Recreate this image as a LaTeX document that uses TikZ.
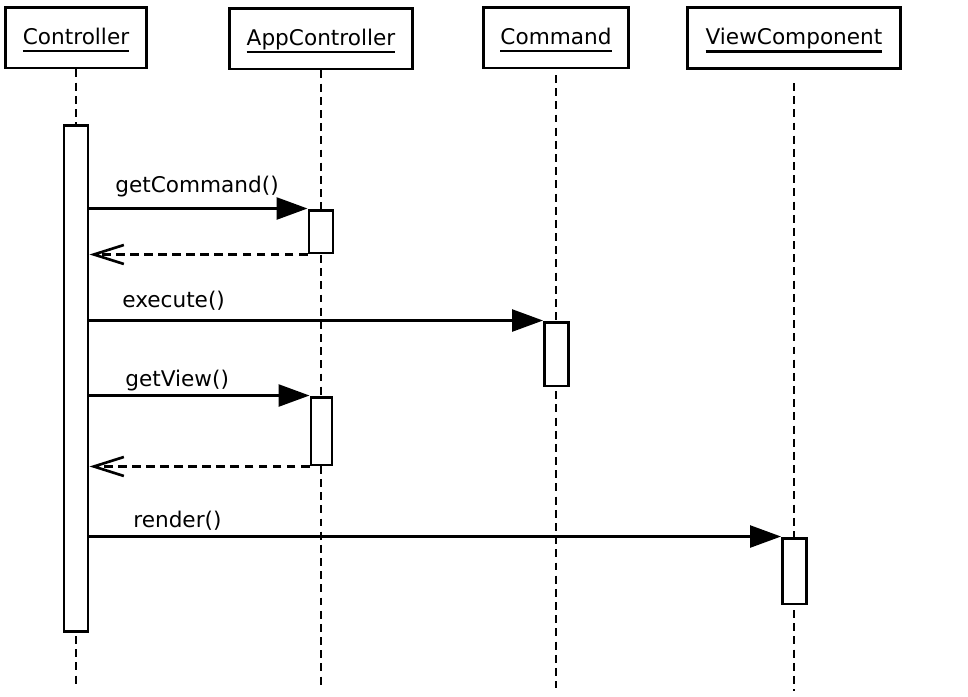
\documentclass[tikz,border=0pt]{standalone}
\usepackage{fontspec}
\setmainfont{DejaVu Sans}
\usetikzlibrary{arrows.meta}
\newcommand\objlabel[1]{\vtop{\hbox{#1\vphantom{p}}\kern0.6pt\hrule height 1.4pt}}
\tikzset{
  obj/.style={draw,line width=1.7pt,minimum height=1.22cm,inner sep=0pt,text height=12.3pt,font=\fontsize{12.3}{14}\selectfont},
  act/.style={draw,line width=1.7pt,fill=white,inner sep=0pt,minimum width=0.48cm},
  life/.style={line width=1.6pt,dash pattern=on 4.5pt off 3pt},
  call/.style={line width=1.5pt,-{Triangle[length=0.62cm,width=0.44cm]}},
  ret/.style={line width=1.5pt,dash pattern=on 5pt off 3pt,-{Straight Barb[length=0.6cm,width=0.38cm,line width=1.5pt]}},
  msg/.style={anchor=base west,inner sep=0pt,font=\fontsize{12.3}{14}\selectfont}
}
\begin{document}
\begin{tikzpicture}[x=0.02cm,y=-0.02cm]
        \useasboundingbox (0,0) rectangle (968,697);
        % objects
        \node[obj,minimum width=2.84cm](ctl)at(76,37.5){\objlabel{Controller}};
        \node[obj,minimum width=3.68cm](app)at(321,38.5){\objlabel{AppController}};
        \node[obj,minimum width=2.92cm](cmd)at(556,37.5){\objlabel{Command}};
        \node[obj,minimum width=4.28cm](view)at(794,38){\objlabel{ViewComponent}};
        % lifelines
        \coordinate(ctlend)at(76,688);
        \coordinate(append)at(321,688);
        \coordinate(cmdstart)at(556,75);
        \coordinate(cmdend)at(556,688);
        \coordinate(viewstart)at(794,83);
        \coordinate(viewend)at(794,691);
        \draw[life](ctl.south)--(ctlend);
        \draw[life](app.south)--(append);
        \draw[life](cmdstart)--(cmdend);
        \draw[life](viewstart)--(viewend);
        % activations
        \node[act,minimum height=10.14cm](ca)at(76,378.5){};
        \node[act,minimum height=0.86cm](ac1)at(321,231.5){};
        \node[act,minimum height=1.28cm](cm)at(556.5,354){};
        \node[act,minimum height=1.36cm,minimum width=0.42cm](ac2)at(321.5,431){};
        \node[act,minimum height=1.32cm](va)at(794.5,571){};
        % messages
        \draw[call](ca.east|-ac1.north)--(ac1.north west);
        \node[msg](m1)at(115,192){getCommand()};
        \draw[ret](ac1.south west)--(ca.east|-ac1.south);
        \draw[call](ca.east|-cm.north)--(cm.north west);
        \node[msg](m2)at(122,307){execute()};
        \draw[call](ca.east|-ac2.north)--(ac2.north west);
        \node[msg](m3)at(125,386){getView()};
        \draw[ret](ac2.south west)--(ca.east|-ac2.south);
        \draw[call](ca.east|-va.north)--(va.north west);
        \node[msg](m4)at(133,527){render()};
    \end{tikzpicture}
\end{document}
